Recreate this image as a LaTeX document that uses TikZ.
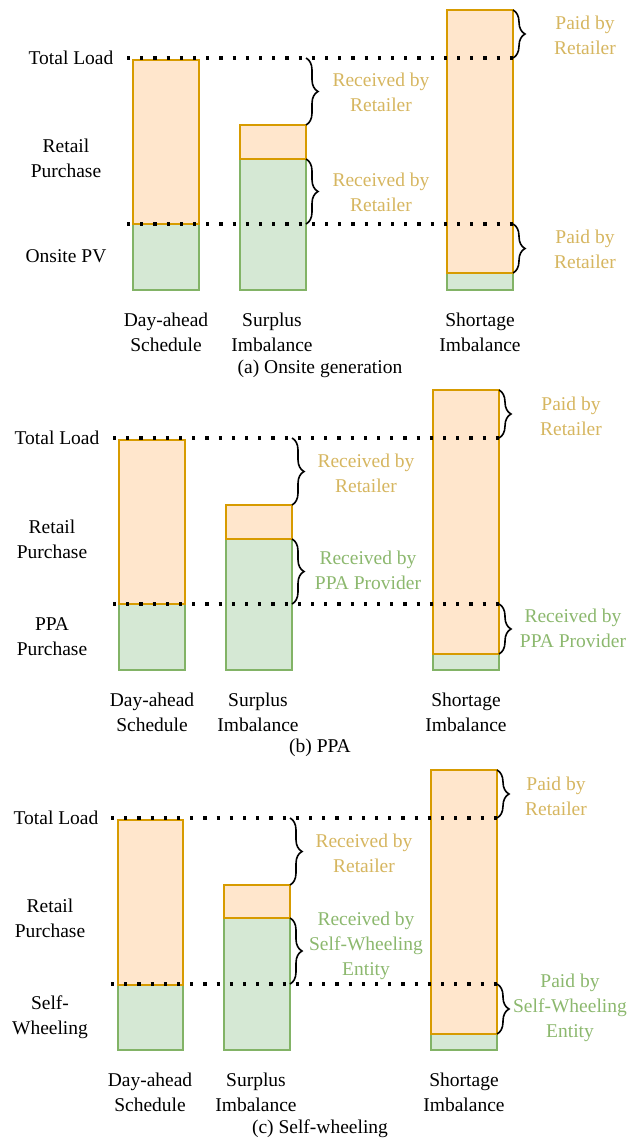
\documentclass[tikz,border=0pt]{standalone}
\usepackage{fontspec}
\setmainfont{LiberationSerif}[Extension=.ttf, UprightFont=*-Regular, BoldFont=*-Bold, ItalicFont=*-Italic, BoldItalicFont=*-BoldItalic]
\usetikzlibrary{decorations.pathreplacing}
\definecolor{pvfill}{HTML}{D5E8D4}
\definecolor{pvline}{HTML}{82B366}
\definecolor{retfill}{HTML}{FFE6CC}
\definecolor{retline}{HTML}{D79B00}
\definecolor{goldtext}{RGB}{214,182,96}
\definecolor{greentext}{RGB}{140,184,110}
\tikzset{
  greenbar/.style={fill=pvfill, draw=pvline, line width=1pt},
  orangebar/.style={fill=retfill, draw=retline, line width=1pt},
  levelline/.style={dash pattern=on 1.6pt off 5pt, line width=1.6pt},
  cbrace/.style={decorate, decoration={brace, amplitude=6pt}, line width=0.8pt},
  lbl/.style={align=center, inner sep=0pt, font=\fontsize{9.75}{12.4}\selectfont},
  goldlbl/.style={lbl, text=goldtext},
  greenlbl/.style={lbl, text=greentext},
}
\begin{document}
\begin{tikzpicture}[x=0.5pt, y=-0.5pt]
\useasboundingbox (0,0) rectangle (640,1142);

% (a) Onsite generation
\begin{scope}
    \draw[greenbar] (133,224) rectangle (199,290);
    \draw[orangebar] (133,60) rectangle (199,224);
    \draw[greenbar] (240,159) rectangle (306,290);
    \draw[orangebar] (240,125) rectangle (306,159);
    \draw[greenbar] (447,273) rectangle (513,290);
    \draw[orangebar] (447,10) rectangle (513,273);
    \coordinate (a-loadL) at (127,58);
    \coordinate (a-loadR) at (513,58);
    \coordinate (a-genL) at (127,224);
    \coordinate (a-genR) at (513,224);
    \coordinate (a-surL) at (306,58);
    \coordinate (a-surT) at (306,125);
    \coordinate (a-surM) at (306,159);
    \coordinate (a-surB) at (306,224);
    \coordinate (a-shoT) at (513,10);
    \coordinate (a-shoM) at (513,273);
    \draw[levelline] (a-loadL) -- (a-loadR);
    \draw[levelline] (a-genL) -- (a-genR);
    \draw[cbrace] (a-surL) -- (a-surT);
    \draw[cbrace] (a-surM) -- (a-surB);
    \draw[cbrace] (a-shoT) -- (a-loadR);
    \draw[cbrace] (a-genR) -- (a-shoM);
    \node[lbl] (a-load) at (71,58) {Total Load};
    \node[lbl] (a-retail) at (66,158) {Retail\\Purchase};
    \node[lbl] (a-own) at (66,256) {Onsite PV};
    \node[goldlbl] (a-rec1) at (381,92) {Received by\\Retailer};
    \node[goldlbl] (a-rec2) at (381,192) {Received by\\Retailer};
    \node[goldlbl] (a-paid1) at (585,35) {Paid by\\Retailer};
    \node[goldlbl] (a-paid2) at (585,249) {Paid by\\Retailer};
    \node[lbl] (a-day) at (166,332) {Day-ahead\\Schedule};
    \node[lbl] (a-sur) at (272,332) {Surplus\\Imbalance};
    \node[lbl] (a-sho) at (480,332) {Shortage\\Imbalance};
    \node[lbl] (a-cap) at (320,369) {(a) Onsite generation};
\end{scope}

% (b) PPA
\begin{scope}[shift={(-14,380)}]
    \draw[greenbar] (133,224) rectangle (199,290);
    \draw[orangebar] (133,60) rectangle (199,224);
    \draw[greenbar] (240,159) rectangle (306,290);
    \draw[orangebar] (240,125) rectangle (306,159);
    \draw[greenbar] (447,274) rectangle (513,290);
    \draw[orangebar] (447,10) rectangle (513,274);
    \coordinate (b-loadL) at (127,58);
    \coordinate (b-loadR) at (513,58);
    \coordinate (b-genL) at (127,224);
    \coordinate (b-genR) at (513,224);
    \coordinate (b-surL) at (306,58);
    \coordinate (b-surT) at (306,125);
    \coordinate (b-surM) at (306,159);
    \coordinate (b-surB) at (306,224);
    \coordinate (b-shoT) at (513,10);
    \coordinate (b-shoM) at (513,274);
    \draw[levelline] (b-loadL) -- (b-loadR);
    \draw[levelline] (b-genL) -- (b-genR);
    \draw[cbrace] (b-surL) -- (b-surT);
    \draw[cbrace] (b-surM) -- (b-surB);
    \draw[cbrace] (b-shoT) -- (b-loadR);
    \draw[cbrace] (b-genR) -- (b-shoM);
    \node[lbl] (b-load) at (71,58) {Total Load};
    \node[lbl] (b-retail) at (66,159) {Retail\\Purchase};
    \node[lbl] (b-own) at (66,257) {PPA\\Purchase};
    \node[goldlbl] (b-rec1) at (380,93) {Received by\\Retailer};
    \node[greenlbl] (b-rec2) at (382,190) {Received by\\PPA Provider};
    \node[goldlbl] (b-paid1) at (585,36) {Paid by\\Retailer};
    \node[greenlbl] (b-paid2) at (587,248) {Received by\\PPA Provider};
    \node[lbl] (b-day) at (166,332) {Day-ahead\\Schedule};
    \node[lbl] (b-sur) at (272,332) {Surplus\\Imbalance};
    \node[lbl] (b-sho) at (480,332) {Shortage\\Imbalance};
    \node[lbl] (b-cap) at (334,368) {(b) PPA};
\end{scope}

% (c) Self-wheeling
\begin{scope}[shift={(-16,760)}]
    \draw[greenbar] (134,225) rectangle (199,290);
    \draw[orangebar] (134,60) rectangle (199,225);
    \draw[greenbar] (240,158) rectangle (306,290);
    \draw[orangebar] (240,125) rectangle (306,158);
    \draw[greenbar] (447,274) rectangle (513,290);
    \draw[orangebar] (447,10) rectangle (513,274);
    \coordinate (c-loadL) at (127,58);
    \coordinate (c-loadR) at (513,58);
    \coordinate (c-genL) at (127,224);
    \coordinate (c-genR) at (513,224);
    \coordinate (c-surL) at (306,58);
    \coordinate (c-surT) at (306,125);
    \coordinate (c-surM) at (306,158);
    \coordinate (c-surB) at (306,224);
    \coordinate (c-shoT) at (513,10);
    \coordinate (c-shoM) at (513,274);
    \draw[levelline] (c-loadL) -- (c-loadR);
    \draw[levelline] (c-genL) -- (c-genR);
    \draw[cbrace] (c-surL) -- (c-surT);
    \draw[cbrace] (c-surM) -- (c-surB);
    \draw[cbrace] (c-shoT) -- (c-loadR);
    \draw[cbrace] (c-genR) -- (c-shoM);
    \node[lbl] (c-load) at (72,58) {Total Load};
    \node[lbl] (c-retail) at (66,158) {Retail\\Purchase};
    \node[lbl] (c-own) at (66,257) {Self-\\Wheeling};
    \node[goldlbl] (c-rec1) at (380,93) {Received by\\Retailer};
    \node[greenlbl] (c-rec2) at (382,186) {Received by\\Self-Wheeling\\Entity};
    \node[goldlbl] (c-paid1) at (572,36) {Paid by\\Retailer};
    \node[greenlbl] (c-paid2) at (586,248) {Paid by\\Self-Wheeling\\Entity};
    \node[lbl] (c-day) at (166,332) {Day-ahead\\Schedule};
    \node[lbl] (c-sur) at (272,332) {Surplus\\Imbalance};
    \node[lbl] (c-sho) at (480,332) {Shortage\\Imbalance};
    \node[lbl] (c-cap) at (336,369) {(c) Self-wheeling};
\end{scope}

\end{tikzpicture}
\end{document}
